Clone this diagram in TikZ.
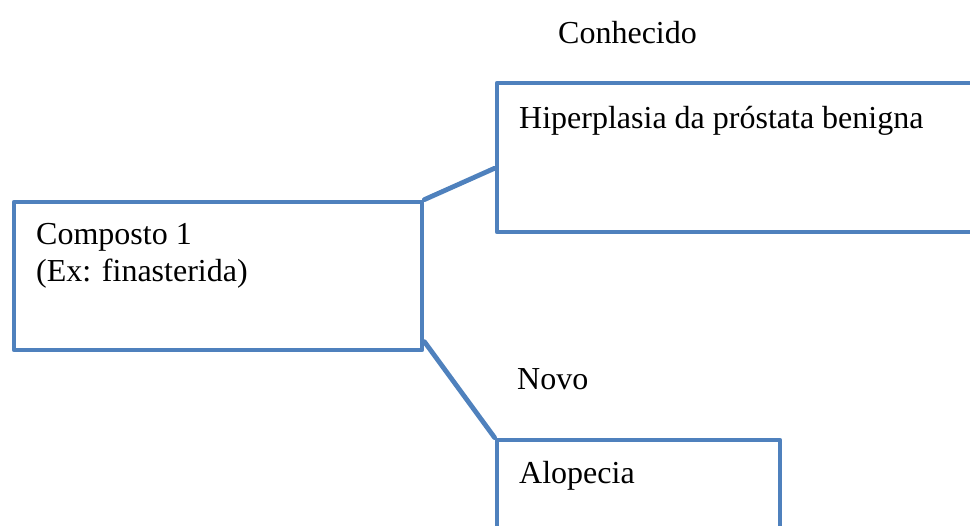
\documentclass[tikz,border=0pt]{standalone}
\usepackage{fontspec}
\setmainfont{Liberation Serif}
\usetikzlibrary{calc}
\definecolor{boxblue}{HTML}{4F81BD}
\begin{document}
\begin{tikzpicture}[x=1pt,y=-1pt,
  box/.style={draw=boxblue,line width=4.8pt,rectangle,inner sep=0pt,line join=round},
  link/.style={draw=boxblue,line width=4.8pt,line cap=round},
  lbl/.style={anchor=base west,inner sep=0pt,font=\fontsize{32}{37}\selectfont,text=black}]
\useasboundingbox (0,0) rectangle (970,526);
\node[box,minimum width=408pt,minimum height=148pt] (b1) at (218,276) {};
\node[box,minimum width=513pt,minimum height=149pt] (b2) at (753.5,157.5) {};
\node[box,minimum width=283pt,minimum height=130pt] (b3) at (638.5,505) {};
\coordinate (b2in) at ($(b2.north west)!0.57!(b2.south west)$);
\coordinate (b1out) at ($(b1.north east)!0.93!(b1.south east)$);
\draw[link] (b1.north east) -- (b2in);
\draw[link] (b1out) -- (b3.north west);
\node[lbl] (t0) at (558,44) {Conhecido};
\node[lbl] (t1) at (519,129) {Hiperplasia da próstata benigna};
\node[lbl] (t2) at (36,245) {Composto 1};
\node[lbl] (t3) at (36,282) {(Ex: finasterida)};
\node[lbl] (t4) at (517,390) {Novo};
\node[lbl] (t5) at (519,484) {Alopecia};
\end{tikzpicture}
\end{document}
